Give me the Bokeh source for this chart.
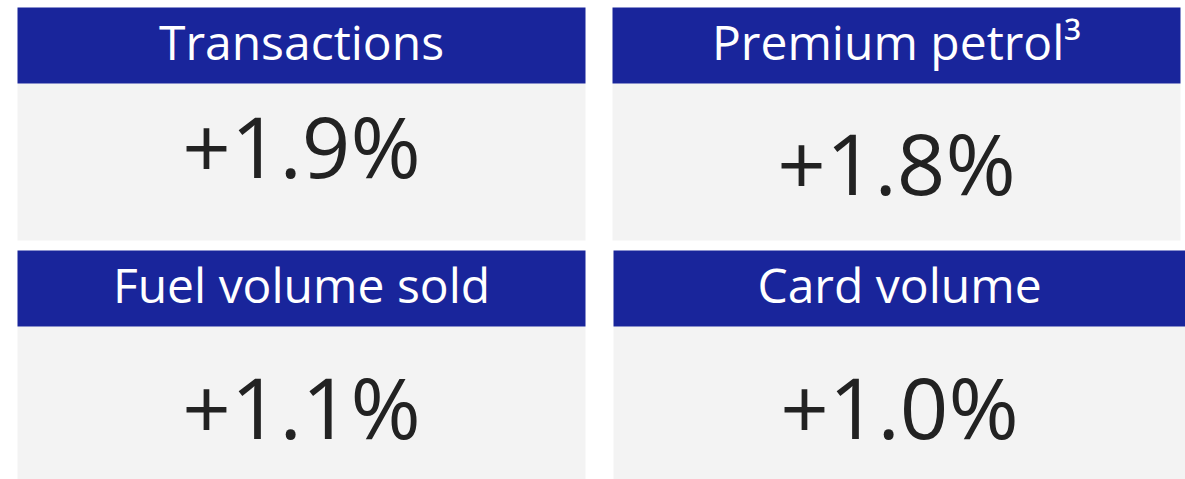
from bokeh.plotting import figure
from bokeh.models import Range1d, ColumnDataSource
from bokeh.core.properties import value
from bokeh.embed import file_html
from bokeh.resources import INLINE

# Data
titles = ["Transactions", "Premium petrol\u00b3", "Fuel volume sold", "Card volume"]
changes = [1.9, 1.8, 1.1, 1.0]
labels = ["+%.1f%%" % v for v in changes]

# Layout (page pixel coordinates)
lefts = [17, 612, 17, 613]
rights = [585, 1180, 585, 1185]
head_tops = [7, 7, 250, 250]
head_bots = [83, 83, 326, 326]
body_bots = [240, 240, 479, 479]
val_base = [177, 194, 438, 438]

BLUE = "#19259b"
GREY = "#f3f3f3"

p = figure(width=1185, height=479, output_backend="svg", toolbar_location=None,
           x_range=Range1d(0, 1185), y_range=Range1d(479, 0),
           min_border=0, outline_line_color=None, background_fill_color="white")
p.axis.visible = False
p.grid.visible = False

src = ColumnDataSource(dict(
    l=lefts, r=rights, ht=head_tops, hb=head_bots, bb=body_bots,
    cx=[(a + b) / 2 for a, b in zip(lefts, rights)],
    tb=[t + 54 - 20 for t in head_tops], vb=[v - 33 for v in val_base],
    title=titles, label=labels))

p.quad(left="l", right="r", top="hb", bottom="bb", source=src, fill_color=GREY, line_color=None)
p.quad(left="l", right="r", top="ht", bottom="hb", source=src, fill_color=BLUE, line_color=None)

p.text(x="cx", y="tb", text="title", source=src, text_color="white",
       text_font=value("Open Sans"), text_font_size="48px", text_align="center",
       text_baseline="alphabetic")
p.text(x="cx", y="vb", text="label", source=src, text_color="#222222",
       text_font=value("Open Sans"), text_font_size="85px", text_align="center",
       text_baseline="alphabetic")

open("out.html", "w").write(file_html(p, INLINE))
